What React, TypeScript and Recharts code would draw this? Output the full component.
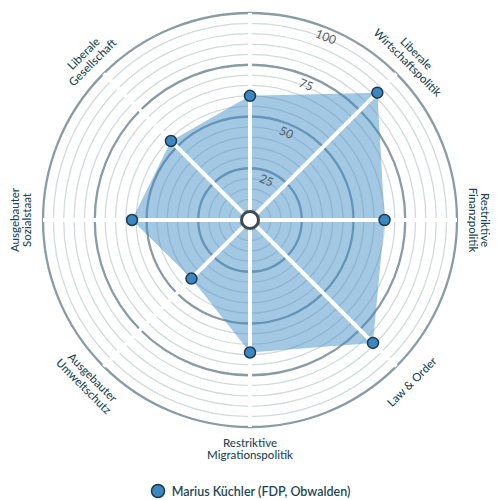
import { RadarChart, Radar, PolarGrid, PolarAngleAxis, PolarRadiusAxis, Legend } from 'recharts';

const axes = [
  'Offene Aussenpolitik',
  'Liberale Wirtschaftspolitik',
  'Restriktive Finanzpolitik',
  'Law & Order',
  'Restriktive Migrationspolitik',
  'Ausgebauter Umweltschutz',
  'Ausgebauter Sozialstaat',
  'Liberale Gesellschaft',
];
const axisLines = [
  [],
  ['Liberale', 'Wirtschaftspolitik'],
  ['Restriktive', 'Finanzpolitik'],
  ['Law & Order'],
  ['Restriktive', 'Migrationspolitik'],
  ['Ausgebauter', 'Umweltschutz'],
  ['Ausgebauter', 'Sozialstaat'],
  ['Liberale', 'Gesellschaft'],
];
const scores = [60, 87, 65, 84, 64, 40, 57, 54];
const candidate = 'Marius Küchler (FDP, Obwalden)';
const majorTicks = [25, 50, 75, 100];
const minorRings = [5, 10, 15, 20, 30, 35, 40, 45, 55, 60, 65, 70, 80, 85, 90, 95];

const data = axes.map((a, i) => ({ axis: a, value: scores[i] }));

const CX = 250;
const CY = 220;
const R = 207;
const ink = '#1d4756';

function AxisLabel(props: any) {
  const { payload, index } = props;
  const lines = axisLines[index] || [];
  const compass = 90 - payload.coordinate; // 0 = top, clockwise
  const rad = (compass * Math.PI) / 180;
  const lower = compass > 100 && compass < 260;
  const rot = lower ? compass - 180 : compass > 180 ? compass - 360 : compass;
  const rr = R + 22;
  const x = CX + rr * Math.sin(rad);
  const y = CY - rr * Math.cos(rad);
  const n = lines.length;
  return (
    <g transform={`translate(${x},${y}) rotate(${rot})`}>
      {lines.map((l, i) => (
        <text
          key={l}
          x={0}
          y={(i - (n - 1) / 2) * 12.5 + 4}
          textAnchor="middle"
          fill={ink}
          fontSize={11.5}
          fontFamily="Lato, sans-serif"
          fontWeight={500}
        >
          {l}
        </text>
      ))}
    </g>
  );
}

function RadiusTick(props: any) {
  const { payload } = props;
  const ang = 22.5;
  const rad = (ang * Math.PI) / 180;
  const rr = (payload.value * R) / 100 - 9;
  const x = CX + rr * Math.sin(rad);
  const y = CY - rr * Math.cos(rad);
  return (
    <text
      transform={`translate(${x},${y}) rotate(${ang})`}
      textAnchor="middle"
      dy={4}
      fill="#4f5d66"
      fontSize={12}
      fontFamily="Lato, sans-serif"
    >
      {payload.value}
    </text>
  );
}

// white spokes drawn over the filled area, one per axis point
function Spokes(props: any) {
  const pts = props.points || [];
  return (
    <g>
      {pts.map((p: any, i: number) => {
        const a = (-p.angle * Math.PI) / 180;
        return (
          <line
            key={i}
            x1={p.cx}
            y1={p.cy}
            x2={p.cx + R * Math.cos(a)}
            y2={p.cy + R * Math.sin(a)}
            stroke="#fff"
            strokeWidth={4}
          />
        );
      })}
    </g>
  );
}

function LegendContent() {
  return (
    <div style={{ display: 'flex', justifyContent: 'center', alignItems: 'center', gap: 6 }}>
      <svg width={16} height={16}>
        <circle cx={8} cy={8} r={6.5} fill="#3a87c4" stroke="#1e3a4a" strokeWidth={1.5} />
      </svg>
      <span style={{ color: ink, fontSize: 12.5, fontFamily: 'Lato, sans-serif', fontWeight: 600 }}>{candidate}</span>
    </div>
  );
}

export default function App() {
  return (
    <div style={{ position: 'absolute', left: 0, top: 0, width: 500, height: 500, background: '#fff' }}>
      <RadarChart width={500} height={500} data={data} cx={CX} cy={CY} outerRadius={R} margin={{ top: 0, right: 0, bottom: 0, left: 0 }}>
        <PolarGrid gridType="circle" radialLines={false} polarRadius={minorRings.map((v) => (v * R) / 100)} stroke="#d3dadb" strokeWidth={1.3} />
        <PolarGrid gridType="circle" radialLines={false} polarRadius={majorTicks.map((v) => (v * R) / 100)} stroke="#8a9ca3" strokeWidth={2.3} />
        <PolarAngleAxis dataKey="axis" tick={AxisLabel} axisLine={false} tickLine={false} />
        <PolarRadiusAxis domain={[0, 100]} ticks={majorTicks} angle={67.5} axisLine={false} tickLine={false} tick={RadiusTick} />
        <Radar
          dataKey="value"
          stroke="none"
          fill="#3f8cc6"
          fillOpacity={0.48}
          isAnimationActive={false}
          dot={false}
        />
        <Radar
          dataKey="value"
          isAnimationActive={false}
          shape={Spokes}
          dot={{ r: 5.5, fill: '#3a87c4', stroke: '#1e3a4a', strokeWidth: 1.5, fillOpacity: 1 }}
        />
        <Legend verticalAlign="bottom" content={LegendContent} wrapperStyle={{ bottom: 1 }} />
      </RadarChart>
      <svg style={{ position: 'absolute', left: CX - 12, top: CY - 12 }} width={24} height={24}>
        <circle cx={12} cy={12} r={8.5} fill="#fff" stroke="#3f4b50" strokeWidth={3} />
      </svg>
    </div>
  );
}
